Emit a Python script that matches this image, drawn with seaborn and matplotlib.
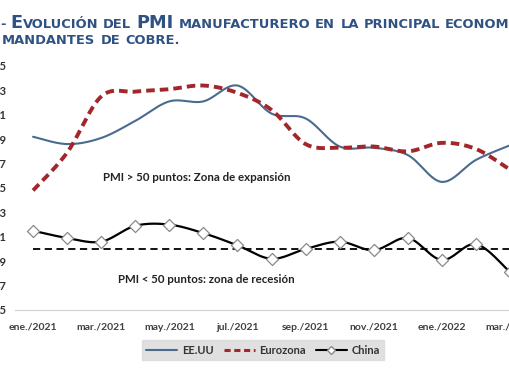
import numpy as np
import pandas as pd
import matplotlib
matplotlib.use("Agg")
import matplotlib.pyplot as plt
import matplotlib.transforms as mtransforms
from matplotlib.lines import Line2D
import seaborn as sns

# ---------------- data ----------------
months = ["ene./2021", "feb./2021", "mar./2021", "abr./2021", "may./2021", "jun./2021",
          "jul./2021", "ago./2021", "sep./2021", "oct./2021", "nov./2021", "dic./2021",
          "ene./2022", "feb./2022", "mar./2022"]
eeuu = [59.2, 58.6, 59.1, 60.5, 62.1, 62.1, 63.4, 61.1, 60.7, 58.4, 58.3, 57.7, 55.5, 57.3, 58.5]
eurozona = [54.8, 57.9, 62.5, 62.9, 63.1, 63.4, 62.8, 61.4, 58.6, 58.3, 58.4, 58.0, 58.7, 58.2, 56.5]
china = [51.5, 50.9, 50.6, 51.9, 52.0, 51.3, 50.3, 49.2, 50.0, 50.6, 49.9, 50.9, 49.1, 50.4, 48.1]
yticks = [45, 47, 49, 51, 53, 55, 57, 59, 61, 63, 65]
tick_idx = [0, 2, 4, 6, 8, 10, 12, 14]

# ---------------- smoothing (Excel-like bezier) ----------------
def smooth(xs, ys, n=30):
    xs = np.asarray(xs, float); ys = np.asarray(ys, float)
    px = np.concatenate([[xs[0]], xs, [xs[-1]]])
    py = np.concatenate([[ys[0]], ys, [ys[-1]]])
    outx, outy = [], []
    t = np.linspace(0, 1, n)
    for i in range(1, len(px) - 2):
        p0 = np.array([px[i], py[i]]); p3 = np.array([px[i + 1], py[i + 1]])
        c1 = p0 + (np.array([px[i + 1], py[i + 1]]) - np.array([px[i - 1], py[i - 1]])) / 6
        c2 = p3 - (np.array([px[i + 2], py[i + 2]]) - np.array([px[i], py[i]])) / 6
        b = ((1 - t) ** 3)[:, None] * p0 + (3 * (1 - t) ** 2 * t)[:, None] * c1 + \
            (3 * (1 - t) * t ** 2)[:, None] * c2 + (t ** 3)[:, None] * p3
        outx.extend(b[:, 0]); outy.extend(b[:, 1])
    return np.array(outx), np.array(outy)

x = np.arange(len(months))
sx_us, sy_us = smooth(x, eeuu)
sx_eu, sy_eu = smooth(x, eurozona)
sx_cn, sy_cn = smooth(x, china)

df_us = pd.DataFrame({"x": sx_us, "y": sy_us})
df_eu = pd.DataFrame({"x": sx_eu, "y": sy_eu})
df_cn = pd.DataFrame({"x": sx_cn, "y": sy_cn})
df_pts = pd.DataFrame({"x": x, "y": china})

# ---------------- figure ----------------
sns.set_theme(style="white")
plt.rcParams['font.family'] = ['Lato', 'DejaVu Sans']

W, H = 510, 382
fig = plt.figure(figsize=(W / 100, H / 100), dpi=100)
fig.patch.set_facecolor("white")
ax = fig.add_axes([15 / W, (H - 310) / H, (W - 15) / W, 244 / H])

blue = "#4A6B8F"
red = "#A3262A"

sns.lineplot(data=df_us, x="x", y="y", ax=ax, color=blue, lw=1.5, sort=False, estimator=None)
sns.lineplot(data=df_eu, x="x", y="y", ax=ax, color=red, lw=2.8, sort=False, estimator=None,
             linestyle=(0, (2.2, 1.3)))
ax.axhline(50, xmin=(0.53) / 14.53, color="black", lw=1.3, ls=(0, (4, 2.5)))
sns.lineplot(data=df_cn, x="x", y="y", ax=ax, color="black", lw=1.6, sort=False, estimator=None)
sns.scatterplot(data=df_pts, x="x", y="y", ax=ax, marker="D", s=38, color="white",
                edgecolor="#8a8a8a", linewidth=0.9, zorder=5, clip_on=False)

ax.set_xlim(-0.53, 14.0)
ax.set_ylim(45, 65)
ax.set_yticks(yticks)
ax.set_yticklabels([str(v) for v in yticks], fontsize=8, fontweight="bold", color="#333333")
ax.set_xticks(tick_idx)
ax.set_xticklabels([months[i] for i in tick_idx], fontsize=7.5, fontweight="bold", color="#404040")
ax.tick_params(axis="y", length=0, pad=6)
ax.tick_params(axis="x", length=0, pad=9)
ax.set_xlabel(""); ax.set_ylabel("")
for s in ["top", "right", "left"]:
    ax.spines[s].set_visible(False)
ax.spines["bottom"].set_color("#d0d0d0")
ax.spines["bottom"].set_linewidth(0.8)
ax.grid(False)

ax.text(2.05, 55.9, "PMI > 50 puntos: Zona de expansión", fontsize=8.3, fontweight="bold",
        color="#222222", va="center", ha="left")
ax.text(2.49, 47.5, "PMI < 50 puntos: zona de recesión", fontsize=8.3, fontweight="bold",
        color="#222222", va="center", ha="left")

handles = [Line2D([], [], color=blue, lw=1.5),
           Line2D([], [], color=red, lw=2.2, ls=(0, (2, 1.2))),
           Line2D([], [], color="black", lw=1.5, marker="D", markersize=4,
                  markerfacecolor="white", markeredgecolor="#8a8a8a")]
leg = fig.legend(handles, ["EE.UU", "Eurozona", "China"], loc="center",
                 bbox_to_anchor=(263 / W, (H - 350) / H), ncol=3, frameon=True,
                 fontsize=8, handlelength=2.8, columnspacing=0.9, handletextpad=0.4,
                 borderpad=0.4, fancybox=False)
leg.get_frame().set_facecolor("#d9d9d9")
leg.get_frame().set_edgecolor("#d9d9d9")
for t in leg.get_texts():
    t.set_fontweight("bold"); t.set_color("#333333")

# ---------------- title (small caps, clipped) ----------------
tcol = "#2F5283"
ident = mtransforms.IdentityTransform()
renderer = fig.canvas.get_renderer()

def draw_line(xpos, base_y, tokens):
    for txt, size, gap in tokens:
        t = fig.text(xpos, H - base_y, txt, fontsize=size, fontweight="bold", color=tcol,
                     family="DejaVu Sans", transform=ident, va="baseline", ha="left")
        bb = t.get_window_extent(renderer)
        xpos = bb.x1 + gap

S, B = 9.4, 12.8
G = 5
draw_line(0, 28, [("-", S, G), ("E", B, 0), ("VOLUCIÓN", S, G), ("DEL", S, G), ("PMI", B, G),
                  ("MANUFACTURERO", S, G), ("EN", S, G), ("LA", S, G), ("PRINCIPAL", S, G),
                  ("ECONOMÍAS", S, G)])
draw_line(2, 43.5, [("MANDANTES", S, G), ("DE", S, G), ("COBRE.", S, 0)])

fig.savefig("out.png", dpi=100)
